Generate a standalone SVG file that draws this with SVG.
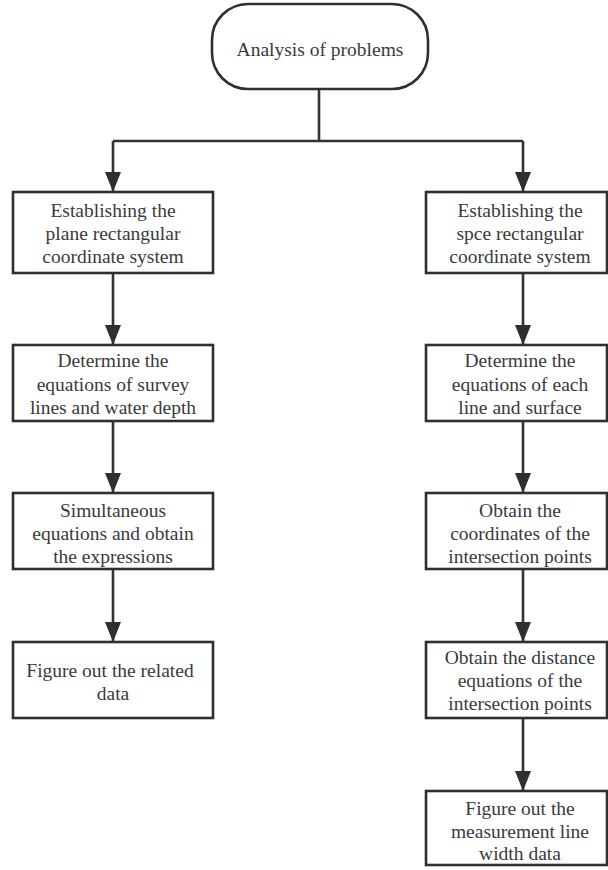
<svg xmlns="http://www.w3.org/2000/svg" width="608" height="870" viewBox="0 0 608 870">
<style>
.box{fill:#fff;stroke:#2f2f2f;stroke-width:2.6}
text{font-family:'Liberation Serif','Times New Roman',Times,serif;font-size:19.5px;fill:#3a3a3a;text-anchor:middle}
.c{fill:none;stroke:#333;stroke-width:2.6}
</style>
<defs>
<marker id="ah" markerUnits="userSpaceOnUse" markerWidth="20" markerHeight="16" refX="20" refY="8" orient="auto" viewBox="0 0 20 16">
<path d="M0,0 L20,8 L0,16 Z" fill="#2f2f2f"/>
</marker>
</defs>
<rect width="608" height="870" fill="#fff"/>
<g id="connectors">
<path class="c" d="M319,89 V141"/>
<path class="c" d="M113,141 H523"/>
<path class="c" d="M113,141 V192" marker-end="url(#ah)"/>
<path class="c" d="M523,141 V192" marker-end="url(#ah)"/>
<path class="c" d="M113,273 V345" marker-end="url(#ah)"/>
<path class="c" d="M113,421 V493" marker-end="url(#ah)"/>
<path class="c" d="M113,569 V642" marker-end="url(#ah)"/>
<path class="c" d="M523,273 V345" marker-end="url(#ah)"/>
<path class="c" d="M523,421 V493" marker-end="url(#ah)"/>
<path class="c" d="M523,569 V642" marker-end="url(#ah)"/>
<path class="c" d="M523,718 V791" marker-end="url(#ah)"/>
</g>
<g id="n0">
<rect class="box" x="212" y="4" width="216" height="85" rx="36" ry="36"/>
<text font-family="Liberation Serif, serif" x="320" y="56">Analysis of problems</text>
</g>
<g id="l1">
<rect class="box" x="13" y="192" width="200" height="81"/>
<text><tspan x="113" y="217">Establishing the</tspan><tspan x="113" y="240">plane rectangular</tspan><tspan x="113" y="263">coordinate system</tspan></text>
</g>
<g id="l2">
<rect class="box" x="13" y="345" width="200" height="76"/>
<text><tspan x="113" y="367">Determine the</tspan><tspan x="113" y="391">equations of survey</tspan><tspan x="113" y="414">lines and water depth</tspan></text>
</g>
<g id="l3">
<rect class="box" x="13" y="493" width="200" height="76"/>
<text><tspan x="113" y="517">Simultaneous</tspan><tspan x="113" y="540">equations and obtain</tspan><tspan x="113" y="563">the expressions</tspan></text>
</g>
<g id="l4">
<rect class="box" x="13" y="642" width="200" height="76"/>
<text><tspan x="110" y="677">Figure out the related</tspan><tspan x="113" y="700">data</tspan></text>
</g>
<g id="r1">
<rect class="box" x="426" y="192" width="181" height="81"/>
<text><tspan x="520" y="217">Establishing the</tspan><tspan x="520" y="240">spce rectangular</tspan><tspan x="520" y="263">coordinate system</tspan></text>
</g>
<g id="r2">
<rect class="box" x="426" y="345" width="181" height="76"/>
<text><tspan x="520" y="367">Determine the</tspan><tspan x="520" y="391">equations of each</tspan><tspan x="520" y="414">line and surface</tspan></text>
</g>
<g id="r3">
<rect class="box" x="426" y="493" width="181" height="76"/>
<text><tspan x="520" y="517">Obtain the</tspan><tspan x="520" y="540">coordinates of the</tspan><tspan x="520" y="563">intersection points</tspan></text>
</g>
<g id="r4">
<rect class="box" x="426" y="642" width="181" height="76"/>
<text><tspan x="520" y="664">Obtain the distance</tspan><tspan x="520" y="687">equations of the</tspan><tspan x="520" y="710">intersection points</tspan></text>
</g>
<g id="r5">
<rect class="box" x="426" y="791" width="181" height="74"/>
<text><tspan x="520" y="815">Figure out the</tspan><tspan x="520" y="838">measurement line</tspan><tspan x="520" y="860">width data</tspan></text>
</g>
</svg>
